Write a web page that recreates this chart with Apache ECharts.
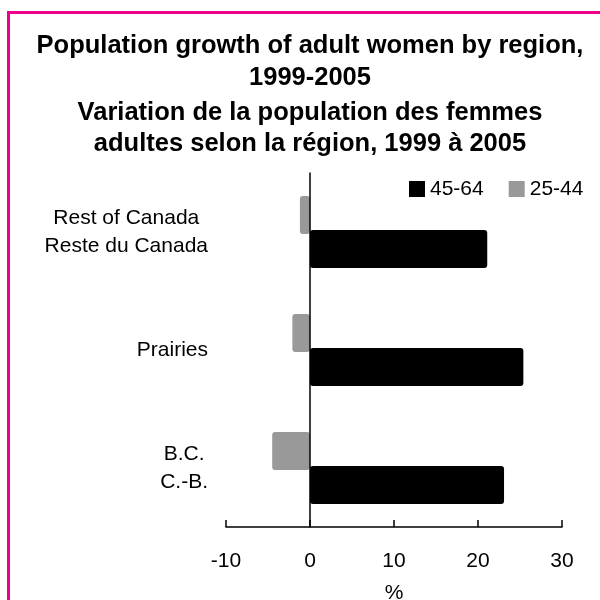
<!DOCTYPE html>
<html>
<head>
<meta charset="utf-8">
<script src="https://cdn.jsdelivr.net/npm/echarts@6/dist/echarts.min.js"></script>
<style>html,body{margin:0;padding:0;background:#fff;}#c{width:600px;height:600px;}</style>
</head>
<body>
<div id="c"></div>
<script>
var categories = ['B.C.\nC.-B.', 'Prairies', 'Rest of Canada\nReste du Canada'];
var seriesNames = ['45-64', '25-44'];
var women4564 = [23.1, 25.4, 21.1];
var women2544 = [-4.5, -2.1, -1.2];
var xTicks = [-10, 0, 10, 20, 30];
var titleEn = 'Population growth of adult women by region,\n1999-2005';
var titleFr = 'Variation de la population des femmes\nadultes selon la région, 1999 à 2005';
var axisName = '%';

var FONT = '"Liberation Sans", Arial, Helvetica, sans-serif';
var chart = echarts.init(document.getElementById('c'), null, {renderer: 'canvas'});
chart.setOption({
  backgroundColor: '#ffffff',
  animation: false,
  graphic: [{
    type: 'rect',
    shape: {x: 8.5, y: 12.5, width: 640, height: 640},
    style: {fill: 'none', stroke: '#EC008C', lineWidth: 3},
    silent: true, z: 100
  }],
  title: [{
    text: titleEn,
    left: 305, top: 25, textAlign: 'center',
    textStyle: {fontFamily: FONT, fontWeight: 'bold', fontSize: 25.5, lineHeight: 32, color: '#000'}
  }, {
    text: titleFr,
    left: 305, top: 92, textAlign: 'center',
    textStyle: {fontFamily: FONT, fontWeight: 'bold', fontSize: 25.5, lineHeight: 31, color: '#000'}
  }],
  legend: {
    data: seriesNames,
    left: 404, top: 173.5,
    itemWidth: 16, itemHeight: 16, itemGap: 25,
    icon: 'rect',
    textStyle: {fontFamily: FONT, fontSize: 21, color: '#000'}
  },
  grid: {left: 226, right: 38, top: 173, bottom: 73, containLabel: false, outerBoundsMode: 'none'},
  xAxis: {
    type: 'value', min: xTicks[0], max: xTicks[xTicks.length - 1], interval: 10,
    name: axisName, nameLocation: 'middle', nameGap: 56,
    nameTextStyle: {fontFamily: FONT, fontSize: 21, color: '#000'},
    axisLine: {show: true, onZero: false, lineStyle: {color: '#000', width: 1.5}},
    axisTick: {show: true, inside: true, length: 7, lineStyle: {color: '#000', width: 1.5}},
    axisLabel: {fontFamily: FONT, fontSize: 21, color: '#000', margin: 24},
    splitLine: {show: false}
  },
  yAxis: {
    type: 'category', data: categories, z: 5,
    axisLine: {show: true, onZero: true, lineStyle: {color: '#000', width: 1.5}},
    axisTick: {show: false},
    axisLabel: {
      margin: 18, align: 'right',
      fontFamily: FONT, fontSize: 21, color: '#000', lineHeight: 28,
      formatter: function (v) {
        return v.split('\n').map(function (s) { return '{c|' + s + '}'; }).join('\n');
      },
      rich: {c: {align: 'center', fontFamily: FONT, fontSize: 21, lineHeight: 28, color: '#000'}}
    },
    splitLine: {show: false}
  },
  series: [{
    name: seriesNames[1], type: 'bar', data: women2544,
    barWidth: 38, barGap: '-10%',
    itemStyle: {color: '#999999', borderRadius: 3}
  }, {
    name: seriesNames[0], type: 'bar', data: women4564,
    barWidth: 38, barGap: '-10%',
    itemStyle: {color: '#000000', borderRadius: 3}
  }]
});
</script>
</body>
</html>
